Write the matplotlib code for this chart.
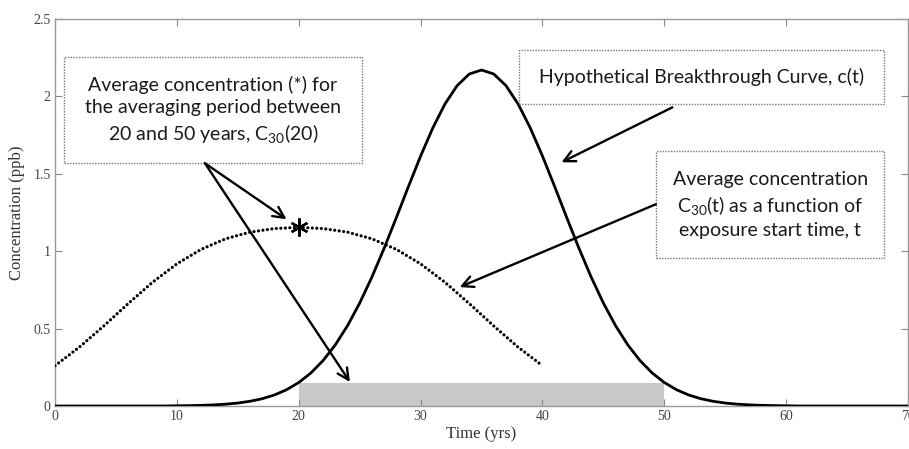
import matplotlib
matplotlib.use('Agg')
import matplotlib.pyplot as plt
from matplotlib.patches import Rectangle

plt.rcParams['mathtext.fontset'] = 'custom'
plt.rcParams['mathtext.rm'] = 'Lato'

# breakthrough curve c(t), read every year
t_curve = list(range(0, 71))
c_curve = [0.0, 0.0, 0.0, 0.0, 0.0, 0.0, 0.0, 0.0, 0.0, 0.0,
           0.0013, 0.0024, 0.0041, 0.0071, 0.0117, 0.0191, 0.0303, 0.0469, 0.0710, 0.1049,
           0.1514, 0.2134, 0.2937, 0.3948, 0.5183, 0.6645, 0.8320, 1.0174, 1.2151, 1.4172,
           1.6142, 1.7957, 1.9508, 2.0697, 2.1445, 2.170, 2.1445, 2.0697, 1.9508, 1.7957,
           1.6142, 1.4172, 1.2151, 1.0174, 0.8320, 0.6645, 0.5183, 0.3948, 0.2937, 0.2134,
           0.1514, 0.1049, 0.0710, 0.0469, 0.0303, 0.0191, 0.0117, 0.0071, 0.0041, 0.0024,
           0.0013, 0.0, 0.0, 0.0, 0.0, 0.0, 0.0, 0.0, 0.0, 0.0, 0.0]

# 30-year average C30(t)
t_avg = [0, 2, 4, 6, 8, 10, 12, 14, 16, 18, 20, 22, 24, 26, 28, 30, 32, 34, 36, 38, 40]
c_avg = [0.260, 0.380, 0.517, 0.661, 0.799, 0.918, 1.012, 1.080, 1.123, 1.146, 1.154,
         1.146, 1.123, 1.080, 1.012, 0.918, 0.799, 0.661, 0.517, 0.380, 0.260]

star_t, star_c = 20, 1.154
period = [20, 50]
period_level = 0.15

fig = plt.figure(figsize=(9.09, 4.49), dpi=100)
ax = fig.add_axes([0.0605, 0.0958, 0.9385, 0.862])

ax.fill_between(period, [period_level, period_level], 0, color='#c8c8c8', lw=0, zorder=1)
ax.plot(t_curve, c_curve, color='black', lw=2.0, zorder=3)
ax.plot(t_avg, c_avg, color='black', lw=2.3, linestyle=(0, (0.01, 1.4)),
        dash_capstyle='round', zorder=3)
ax.plot([star_t], [star_c], marker=(6, 2, 0), ms=13, mew=1.7, color='black', zorder=4)

ax.set_xlim(0, 70)
ax.set_ylim(0, 2.5)
ax.set_xticks(range(0, 71, 10))
ax.set_yticks([0, 0.5, 1, 1.5, 2, 2.5])
ax.set_yticklabels(['0', '0.5', '1', '1.5', '2', '2.5'])
ax.tick_params(direction='in', top=True, right=True, length=5, width=0.8,
               color='#888888', labelsize=10, labelcolor='#444444', pad=3)
for lab in ax.get_xticklabels() + ax.get_yticklabels():
    lab.set_family('Liberation Serif')
for s in ax.spines.values():
    s.set_color('#999999')
    s.set_linewidth(1.0)
ax.set_xlabel('Time (yrs)', family='Liberation Serif', fontsize=12, color='#333333', labelpad=2)
ax.set_ylabel('Concentration (ppb)', family='Liberation Serif', fontsize=12, color='#333333', labelpad=6)

# annotation boxes
boxes = [
    ((0.74, 1.568), 24.46, 0.684, (12.95, 1.91),
     'Average concentration (*) for\nthe averaging period between\n20 and 50 years, C$\\mathregular{_{30}}$(20)'),
    ((38.1, 1.948), 29.9, 0.349, (53.07, 2.123),
     'Hypothetical Breakthrough Curve, c(t)'),
    ((49.3, 0.955), 18.7, 0.690, (58.7, 1.30),
     'Average concentration\nC$\\mathregular{_{30}}$(t) as a function of\nexposure start time, t'),
]
for (xy, w, h, cxy, txt) in boxes:
    ax.add_patch(Rectangle(xy, w, h, facecolor='white', edgecolor='#777777',
                           lw=1.0, linestyle=(0, (1, 1)), zorder=5))
    ax.text(cxy[0], cxy[1], txt, ha='center', va='center', family='Lato',
            fontsize=14, color='#1a1a1a', linespacing=1.35, zorder=6)

arrows = [
    ((12.3, 1.568), (19.0, 1.206)),
    ((12.3, 1.568), (24.2, 0.155)),
    ((50.66, 1.929), (41.56, 1.574)),
    ((49.3, 1.303), (33.2, 0.768)),
]
for start, end in arrows:
    ax.annotate('', xy=end, xytext=start,
                arrowprops=dict(arrowstyle='->,head_length=0.8,head_width=0.4',
                                color='black', lw=1.7, shrinkA=0, shrinkB=0), zorder=7)

fig.savefig('out.png', dpi=100)
